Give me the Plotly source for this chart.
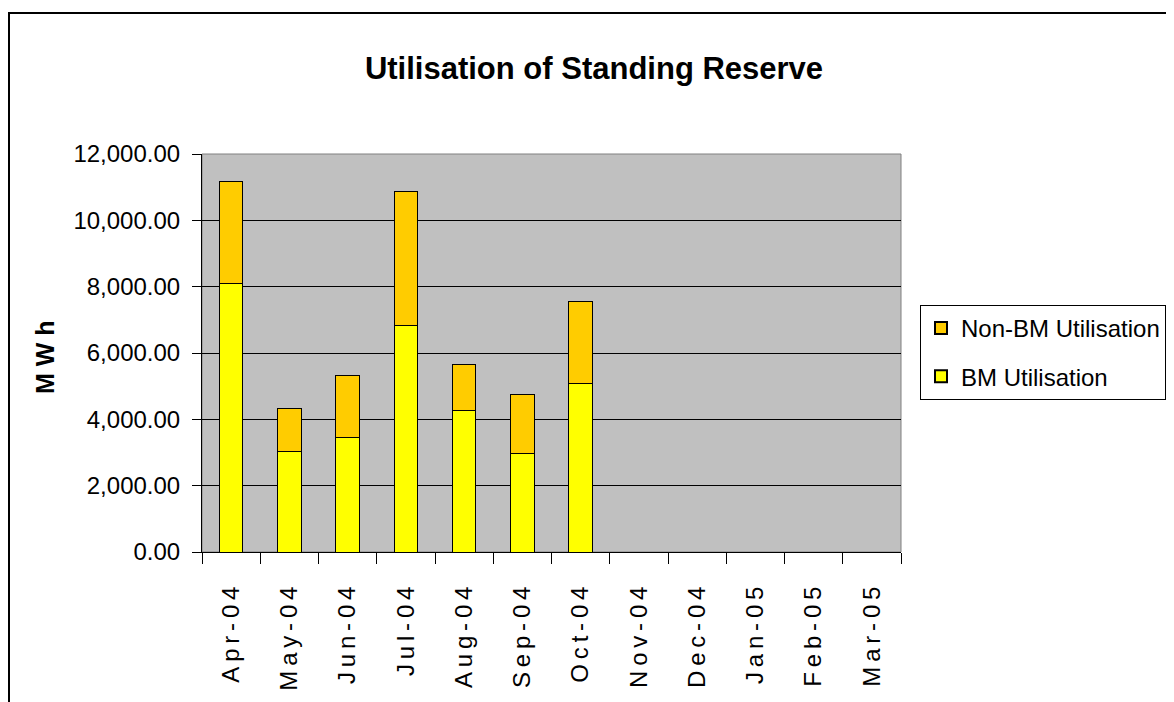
import plotly.graph_objects as go

months = ["Apr-04", "May-04", "Jun-04", "Jul-04", "Aug-04", "Sep-04",
          "Oct-04", "Nov-04", "Dec-04", "Jan-05", "Feb-05", "Mar-05"]
bm_util = [8090, 3040, 3450, 6830, 4280, 2970, 5080, None, None, None, None, None]
non_bm_util = [3070, 1290, 1860, 4040, 1380, 1790, 2460, None, None, None, None, None]
y_ticks = [0, 2000, 4000, 6000, 8000, 10000, 12000]

FONT = "Liberation Sans, Arial, sans-serif"

# page is 1174x702 but the html body adds an 8px margin, so shift everything
W, H = 1174, 702
OFF = 8
# plot area in page pixels
L, R, T, B = 202, 901, 154, 552


def px_x(p):
    return (p - L) / (R - L)


def px_y(p):
    return (B - p) / (B - T)


# spaced-out month labels like the original
spaced = ["\u2009".join(m) for m in months]

fig = go.Figure()
fig.add_trace(go.Bar(x=months, y=bm_util, name="BM Utilisation",
                     legendgroup="bm", legendrank=2,
                     marker=dict(color="#FFFF00", line=dict(color="black", width=1))))
fig.add_trace(go.Bar(x=months, y=non_bm_util, name="Non-BM Utilisation",
                     legendgroup="nbm", legendrank=1,
                     marker=dict(color="#FFCC00", line=dict(color="black", width=1))))

fig.update_layout(
    width=W, height=H,
    barmode="stack", bargap=0.6,
    paper_bgcolor="white", plot_bgcolor="#C0C0C0",
    margin=dict(l=L - OFF, r=W - (R - OFF), t=T - OFF, b=H - (B - OFF), autoexpand=False),
    font=dict(family=FONT, size=24, color="black"),
    title=dict(text="<b>Utilisation of Standing Reserve</b>",
               font=dict(size=31, family=FONT, color="black"),
               xref="paper", x=px_x(594), xanchor="center",
               yref="container", y=1 - (68 - OFF) / H, yanchor="middle"),
    legend=dict(traceorder="grouped", x=px_x(920), y=px_y(305),
                xanchor="left", yanchor="top",
                bordercolor="black", borderwidth=1, bgcolor="white",
                font=dict(size=24, family=FONT), itemsizing="constant",
                tracegroupgap=14),
    showlegend=True,
)

fig.update_xaxes(
    type="category", categoryorder="array", categoryarray=months,
    tickmode="array", tickvals=months, ticktext=spaced,
    tickangle=-90, tickson="boundaries", ticks="outside", ticklen=11,
    tickcolor="black", showline=True, linecolor="black", linewidth=1,
    showgrid=False, ticklabelstandoff=24,
    tickfont=dict(size=24, family=FONT),
)
fig.update_yaxes(
    range=[0, 12000], tickvals=y_ticks, tickformat=",.2f",
    ticks="outside", ticklen=9, tickcolor="black",
    showline=True, linecolor="black", linewidth=1,
    showgrid=True, gridcolor="black", gridwidth=1, zeroline=False,
    ticklabelstandoff=7,
    tickfont=dict(size=24, family=FONT),
)

# y-axis title
fig.add_annotation(text="<b>M W h</b>", xref="paper", yref="paper",
                   x=px_x(45), y=px_y(357), xanchor="center", yanchor="middle",
                   textangle=-90, showarrow=False,
                   font=dict(size=25, family=FONT, color="black"))

# grey outline round the plot area (top / right)
fig.add_shape(type="rect", xref="paper", yref="paper", x0=0, x1=1, y0=0, y1=1,
              line=dict(color="#808080", width=1), layer="below")

# chart frame running off the page to the right and bottom
fig.add_shape(type="rect", xref="paper", yref="paper",
              x0=px_x(9), x1=px_x(1300), y0=px_y(800), y1=px_y(13),
              line=dict(color="black", width=2))

fig.write_html("out.html")
